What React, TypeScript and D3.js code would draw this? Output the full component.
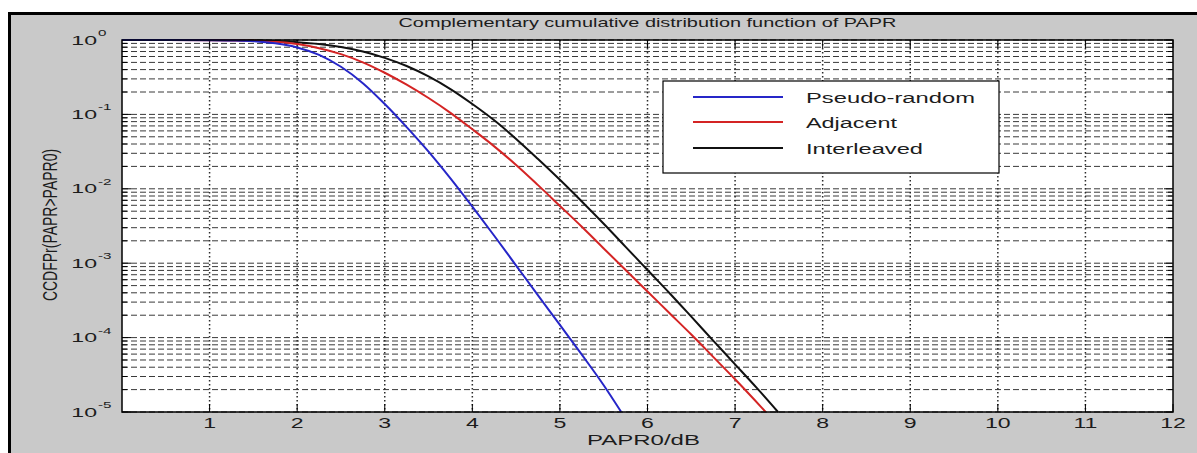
import React from "react";
import * as d3 from "d3";

const titleText = "Complementary cumulative distribution function of PAPR";
const xLabel = "PAPR0/dB";
const yLabel = "CCDFPr(PAPR>PAPR0)";
const xTicks = [1, 2, 3, 4, 5, 6, 7, 8, 9, 10, 11, 12];
const yDecades = [0, -1, -2, -3, -4, -5];
const seriesNames = ["Pseudo-random", "Adjacent", "Interleaved"];
const seriesColors = ["#2626c8", "#d42424", "#111111"];

const pseudoX = [0, 0.5, 1, 1.25, 1.5, 1.75, 2, 2.25, 2.5, 2.75, 3, 3.25, 3.5, 3.75, 4, 4.25, 4.5, 4.75, 5, 5.25, 5.5, 5.7];
const pseudoY = [1, 1, 0.995, 0.986, 0.964, 0.902, 0.794, 0.631, 0.437, 0.263, 0.138, 0.0676, 0.0316, 0.0138, 0.00575, 0.00234, 9.3e-4, 3.7e-4, 1.48e-4, 5.9e-5, 2.29e-5, 1e-5];

const adjacentX = [0, 0.5, 1, 1.5, 1.75, 2, 2.25, 2.5, 2.75, 3, 3.25, 3.5, 3.75, 4, 4.25, 4.5, 4.75, 5, 5.25, 5.5, 5.75, 6, 6.25, 6.5, 6.75, 7, 7.35];
const adjacentY = [1, 1, 0.995, 0.977, 0.944, 0.881, 0.776, 0.646, 0.501, 0.363, 0.251, 0.166, 0.105, 0.0631, 0.0372, 0.0209, 0.0112, 0.00589, 0.00309, 0.00158, 8.1e-4, 4.17e-4, 2.14e-4, 1.1e-4, 5.5e-5, 2.75e-5, 1e-5];

const interleavedX = [0, 0.5, 1, 1.5, 1.75, 2, 2.25, 2.5, 2.75, 3, 3.25, 3.5, 3.75, 4, 4.25, 4.5, 4.75, 5, 5.25, 5.5, 5.75, 6, 6.25, 6.5, 6.75, 7, 7.25, 7.49];
const interleavedY = [1, 1, 0.998, 0.989, 0.966, 0.933, 0.881, 0.804, 0.7, 0.575, 0.447, 0.324, 0.219, 0.138, 0.0832, 0.0468, 0.0251, 0.0132, 0.00676, 0.00339, 0.00166, 8.1e-4, 3.98e-4, 1.91e-4, 9.1e-5, 4.37e-5, 2.09e-5, 1e-5];

const W = 1197;
const H = 453;
const L = 122, R = 1173, T = 40, B = 412;
const FONT = "'Liberation Sans', Arial, Helvetica, sans-serif";
const TXT = "#1c1c1c";

export default function App() {
  const x = d3.scaleLinear().domain([0, 12]).range([L, R]);
  const y = d3.scaleLog().domain([1e-5, 1]).range([B, T]);

  const minor: number[] = [];
  for (let k = -5; k < 0; k++) {
    for (let m = 2; m <= 9; m++) minor.push(m * Math.pow(10, k));
  }
  const majors = yDecades.map((e) => Math.pow(10, e));

  const line = d3
    .line<[number, number]>()
    .x((d) => x(d[0]))
    .y((d) => y(d[1]))
    .curve(d3.curveMonotoneX);

  const series = [
    { xs: interleavedX, ys: interleavedY, c: seriesColors[2] },
    { xs: adjacentX, ys: adjacentY, c: seriesColors[1] },
    { xs: pseudoX, ys: pseudoY, c: seriesColors[0] },
  ];

  const legX = 663, legY = 81, legW = 336, legH = 92;
  const legRows = [97, 122, 148];

  return (
    <svg
      width={W}
      height={H}
      style={{ position: "absolute", left: 0, top: 0, display: "block" }}
      fontFamily={FONT}
    >
      <rect x={0} y={0} width={W} height={H} fill="#ffffff" />
      <rect x={8} y={12} width={W - 8} height={H - 12} fill="#c9c9c9" />
      <rect x={8} y={12} width={W - 8} height={3} fill="#000" />
      <rect x={8} y={12} width={3} height={H - 12} fill="#000" />

      <rect x={L} y={T} width={R - L} height={B - T} fill="#fff" />
      <defs>
        <clipPath id="plotclip">
          <rect x={L} y={T - 2} width={R - L} height={B - T + 4} />
        </clipPath>
      </defs>

      {[...minor, ...majors].map((v, i) => (
        <line
          key={"h" + i}
          x1={L}
          x2={R}
          y1={y(v)}
          y2={y(v)}
          stroke="#3a3a3a"
          strokeWidth={1}
          strokeDasharray="6,3"
        />
      ))}
      {xTicks.slice(0, -1).map((t) => (
        <line
          key={"v" + t}
          x1={x(t)}
          x2={x(t)}
          y1={T}
          y2={B}
          stroke="#2a2a2a"
          strokeWidth={1.5}
          strokeDasharray="1.5,2.5"
        />
      ))}

      {xTicks.map((t) => (
        <g key={"xt" + t}>
          <line x1={x(t)} x2={x(t)} y1={B} y2={B - 8} stroke="#000" />
          <line x1={x(t)} x2={x(t)} y1={T} y2={T + 8} stroke="#000" />
        </g>
      ))}
      {majors.map((v, i) => (
        <g key={"ymt" + i}>
          <line x1={L} x2={L + 9} y1={y(v)} y2={y(v)} stroke="#000" />
          <line x1={R} x2={R - 9} y1={y(v)} y2={y(v)} stroke="#000" />
        </g>
      ))}
      {minor.map((v, i) => (
        <g key={"ymn" + i}>
          <line x1={L} x2={L + 5} y1={y(v)} y2={y(v)} stroke="#000" />
          <line x1={R} x2={R - 5} y1={y(v)} y2={y(v)} stroke="#000" />
        </g>
      ))}

      <g clipPath="url(#plotclip)">
        {series.map((s, i) => (
          <path
            key={"s" + i}
            d={line(s.xs.map((xv, j) => [xv, s.ys[j]] as [number, number])) || ""}
            fill="none"
            stroke={s.c}
            strokeWidth={2}
          />
        ))}
      </g>

      <rect x={L} y={T} width={R - L} height={B - T} fill="none" stroke="#000" strokeWidth={1.5} />

      <rect x={legX} y={legY} width={legW} height={legH} fill="#fff" stroke="#000" strokeWidth={1.2} />
      {seriesNames.map((n, i) => (
        <g key={"lg" + i}>
          <line x1={693} x2={783} y1={legRows[i]} y2={legRows[i]} stroke={seriesColors[i]} strokeWidth={2} />
          <text
            x={806}
            y={legRows[i] + 5.5}
            fontSize={14}
            fill={TXT}
            textLength={[169, 91, 117][i]}
            lengthAdjust="spacingAndGlyphs"
          >
            {n}
          </text>
        </g>
      ))}

      {xTicks.map((t) => (
        <text
          key={"xl" + t}
          transform={`translate(${x(t)},428) scale(1.65,1)`}
          textAnchor="middle"
          fontSize={14}
          fill={TXT}
        >
          {t}
        </text>
      ))}

      {yDecades.map((e) => (
        <g key={"yl" + e} transform={`translate(0,${y(Math.pow(10, e))})`}>
          <text transform="translate(97,4.5) scale(1.85,1)" textAnchor="end" fontSize={12.5} fill={TXT}>
            10
          </text>
          <text transform="translate(98,-4) scale(1.6,1)" textAnchor="start" fontSize={9.5} fill={TXT}>
            {e === 0 ? "0" : "-" + Math.abs(e)}
          </text>
        </g>
      ))}

      <text
        x={(L + R) / 2 - 249}
        y={27}
        fontSize={13}
        fill={TXT}
        textLength={498}
        lengthAdjust="spacingAndGlyphs"
      >
        {titleText}
      </text>

      <text x={587} y={445} fontSize={14} fill={TXT} textLength={113} lengthAdjust="spacingAndGlyphs">
        {xLabel}
      </text>

      <text
        transform="translate(57,225) scale(1.45,1) rotate(-90)"
        textAnchor="middle"
        fontSize={14}
        fill={TXT}
      >
        {yLabel}
      </text>
    </svg>
  );
}
